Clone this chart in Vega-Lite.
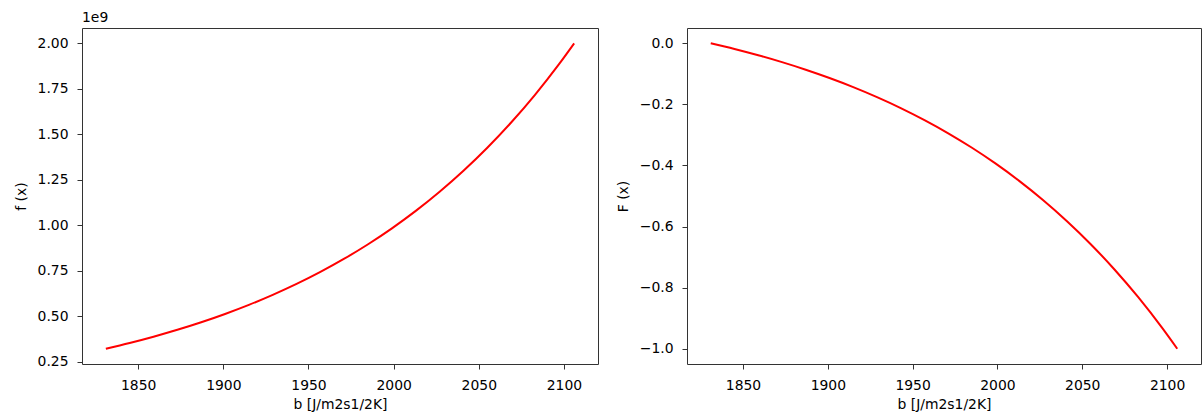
{
  "$schema": "https://vega.github.io/schema/vega-lite/v6.json",
  "background": "white",
  "padding": {"left": 13, "top": 10, "right": 2, "bottom": 0},
  "bounds": "flush",
  "spacing": 89,
  "data": {"values": [
    {"b": 1831, "f": 323000000, "F": 0},
    {"b": 1845, "f": 354400000, "F": -0.0187},
    {"b": 1859, "f": 388900000, "F": -0.0393},
    {"b": 1873, "f": 426700000, "F": -0.0618},
    {"b": 1887, "f": 468200000, "F": -0.0866},
    {"b": 1901, "f": 513800000, "F": -0.1138},
    {"b": 1915, "f": 563700000, "F": -0.1435},
    {"b": 1929, "f": 618600000, "F": -0.1763},
    {"b": 1943, "f": 678700000, "F": -0.2121},
    {"b": 1957, "f": 744700000, "F": -0.2515},
    {"b": 1971, "f": 817200000, "F": -0.2947},
    {"b": 1985, "f": 896700000, "F": -0.3421},
    {"b": 1999, "f": 983900000, "F": -0.3941},
    {"b": 2013, "f": 1079600000, "F": -0.4512},
    {"b": 2027, "f": 1184600000, "F": -0.5138},
    {"b": 2041, "f": 1299800000, "F": -0.5825},
    {"b": 2055, "f": 1426200000, "F": -0.6578},
    {"b": 2069, "f": 1564900000, "F": -0.7406},
    {"b": 2083, "f": 1717100000, "F": -0.8313},
    {"b": 2097, "f": 1884200000, "F": -0.9310},
    {"b": 2106, "f": 2000000000, "F": -1.0}
  ]},
  "config": {
    "font": "DejaVu Sans",
    "view": {"stroke": "#333333", "strokeWidth": 1},
    "axis": {
      "grid": false,
      "domain": false,
      "labelFont": "DejaVu Sans",
      "labelFontSize": 13.9,
      "labelColor": "#000000",
      "tickColor": "#333333",
      "tickSize": 5,
      "tickWidth": 1,
      "labelPadding": 9,
      "titleFont": "DejaVu Sans",
      "titleFontSize": 13.9,
      "titleFontWeight": "normal",
      "titleColor": "#000000",
      "titlePadding": 9
    }
  },
  "hconcat": [
    {
      "width": 516,
      "height": 336,
      "title": {"text": "1e9", "anchor": "start", "frame": "group", "fontSize": 13.9, "fontWeight": "normal", "font": "DejaVu Sans", "offset": 3, "color": "#000000"},
      "mark": {"type": "line", "color": "#ff0000", "strokeWidth": 2, "interpolate": "monotone"},
      "encoding": {
        "x": {"field": "b", "type": "quantitative", "scale": {"domain": [1817, 2120], "nice": false, "zero": false}, "axis": {"values": [1850, 1900, 1950, 2000, 2050, 2100], "format": "d", "title": "b [J/m2s1/2K]", "titlePadding": 6}},
        "y": {"field": "f", "type": "quantitative", "scale": {"domain": [239000000, 2084000000], "nice": false, "zero": false}, "axis": {"values": [250000000, 500000000, 750000000, 1000000000, 1250000000, 1500000000, 1750000000, 2000000000], "labelExpr": "format(datum.value / 1e9, '.2f')", "title": "f (x)"}}
      }
    },
    {
      "width": 514,
      "height": 336,
      "mark": {"type": "line", "color": "#ff0000", "strokeWidth": 2, "interpolate": "monotone"},
      "encoding": {
        "x": {"field": "b", "type": "quantitative", "scale": {"domain": [1817, 2120], "nice": false, "zero": false}, "axis": {"values": [1850, 1900, 1950, 2000, 2050, 2100], "format": "d", "title": "b [J/m2s1/2K]", "titlePadding": 6}},
        "y": {"field": "F", "type": "quantitative", "scale": {"domain": [-1.05, 0.05], "nice": false, "zero": false}, "axis": {"values": [-1.0, -0.8, -0.6, -0.4, -0.2, 0.0], "format": ".1f", "title": "F (x)"}}
      }
    }
  ]
}
